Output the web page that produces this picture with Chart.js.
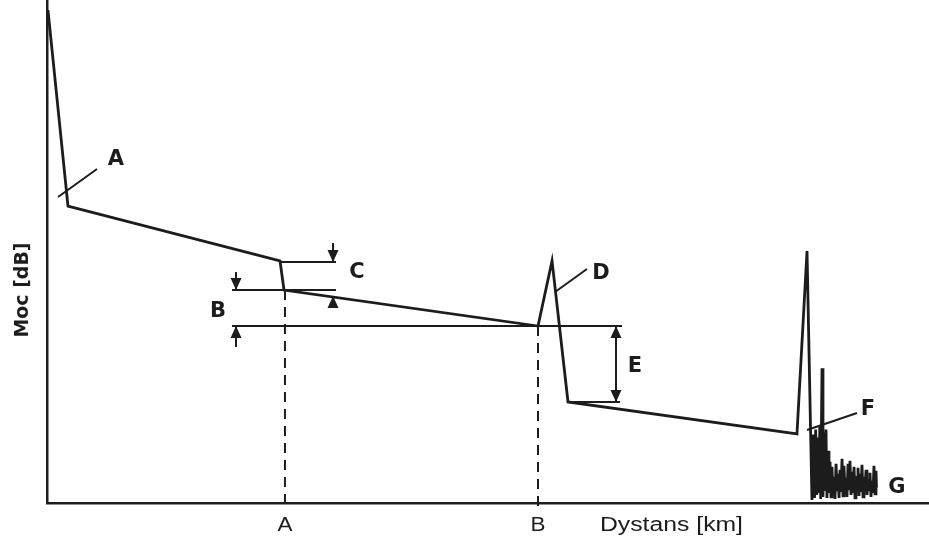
<html lang="en">
  <head>
    <meta name="viewport" content="width=device-width, initial-scale=1.0" />
    <title>OTDR</title>
    <style>
      * { padding: 0; margin: 0; box-sizing: border-box; }
      body { background: #ffffff; }
      .wrapper { position: relative; width: 929px; height: 539px; }
    </style>
  </head>
  <body>
    <div class="wrapper">
      <canvas id="otdr"></canvas>
    </div>
    <script src="https://cdn.jsdelivr.net/npm/chart.js@4.4.0/dist/chart.umd.min.js"></script>
    <script>
    // trace: distance [km] / power [dB]
    const traceX = [0.11, 2.38, 26.42, 26.87, 55.67, 57.26, 59.07, 85.03, 86.17, 86.73,
      86.90, 87.02, 87.15, 87.27, 87.40, 87.50, 87.62, 87.72, 87.87, 87.98,
      88.08, 88.20, 88.32, 88.43, 88.55, 88.66, 88.78, 88.89, 89.00, 89.12,
      89.23, 89.34, 89.46, 89.57, 89.68, 89.80, 89.91, 90.02, 90.14, 90.25,
      90.36, 90.48, 90.59, 90.70, 90.82, 90.93, 91.04, 91.16, 91.27, 91.38,
      91.50, 91.61, 91.72, 91.84, 91.95, 92.06, 92.18, 92.29, 92.40, 92.52,
      92.63, 92.74, 92.86, 92.97, 93.08, 93.20, 93.31, 93.42, 93.54, 93.65,
      93.76, 93.88, 93.99, 94.05];
    const traceY = [49.0, 29.52, 24.06, 21.17, 17.59, 24.06, 10.04, 6.86, 25.05, 0.30,
      6.8, 0.5, 7.3, 0.8, 6.5, 1.0, 7.6, 0.4, 13.4, 0.6,
      7.0, 1.2, 7.3, 0.5, 5.2, 1.0, 4.1, 0.6, 3.6, 0.9,
      2.6, 0.4, 3.9, 1.3, 2.9, 0.5, 3.3, 1.1, 4.4, 0.7,
      3.7, 1.2, 2.5, 0.6, 3.9, 1.4, 4.2, 0.8, 3.1, 1.0,
      3.6, 0.5, 2.7, 1.3, 3.5, 0.7, 2.9, 1.1, 3.8, 0.6,
      2.6, 1.2, 3.3, 0.8, 2.4, 1.3, 3.0, 0.6, 2.2, 1.0,
      3.7, 0.9, 3.2, 1.5];

    // event markers on the distance axis
    const tickValues = [26.98, 55.67];
    const tickLabels = ['A', 'B'];

    // helper lines: [x1, y1, x2, y2]
    const levelLines = [
      [26.42, 23.96, 32.77, 23.96],   // C top
      [20.98, 21.17, 32.77, 21.17],   // B top
      [20.98, 17.59, 65.19, 17.59],   // B bottom / E top
      [59.07, 10.04, 64.97, 10.04],   // E bottom
      [32.43, 25.84, 32.43, 23.96],   // C arrow shaft top
      [32.43, 20.58, 32.43, 19.58],   // C arrow shaft bottom
      [21.43, 22.96, 21.43, 21.17],   // B arrow shaft top
      [21.43, 17.59, 21.43, 15.51],   // B arrow shaft bottom
      [64.51, 17.59, 64.51, 10.04],   // E shaft
      [1.25, 30.42, 5.67, 33.20],     // A leader
      [57.60, 20.97, 61.22, 23.26],   // D leader
      [86.17, 7.26, 91.84, 8.95]      // F leader
    ];
    // arrow heads: [x, y, direction] (tip position)
    const arrowHeads = [
      [32.43, 23.96, 'down'], [32.43, 20.58, 'up'],
      [21.43, 21.17, 'down'], [21.43, 17.59, 'up'],
      [64.51, 17.59, 'up'], [64.51, 10.04, 'down']
    ];
    // dashed markers: [x, yTop]
    const dashedMarkers = [[26.98, 21.17], [55.67, 17.59]];
    // letters
    const letterText = ['A', 'B', 'C', 'D', 'E', 'F', 'G'];
    const letterX = [7.82, 19.39, 35.15, 62.81, 66.67, 93.08, 96.37];
    const letterY = [34.10, 18.99, 22.86, 22.76, 13.52, 9.24, 1.49];

    const ink = '#1c1c1c';

    const tracePoints = traceX.map((x, i) => ({ x: x, y: traceY[i] }));

    // squeeze text to a given width (the scan uses a condensed face)
    function fitText(ctx, text, x, y, width) {
      const w = ctx.measureText(text).width;
      ctx.save();
      ctx.translate(x, y);
      ctx.scale(width / w, 1);
      ctx.fillText(text, 0, 0);
      ctx.restore();
    }

    const annotate = {
      id: 'annotate',
      afterDatasetsDraw(chart) {
        const ctx = chart.ctx;
        const xs = chart.scales.x, ys = chart.scales.y;
        const px = v => xs.getPixelForValue(v);
        const py = v => ys.getPixelForValue(v);
        ctx.save();
        ctx.strokeStyle = ink;
        ctx.fillStyle = ink;
        ctx.lineCap = 'butt';

        // dashed markers down through the axis
        ctx.lineWidth = 2;
        ctx.setLineDash([10, 7]);
        dashedMarkers.forEach(m => {
          ctx.beginPath();
          ctx.moveTo(px(m[0]), py(m[1]));
          ctx.lineTo(px(m[0]), ys.bottom + 8);
          ctx.stroke();
        });
        ctx.setLineDash([]);

        levelLines.forEach(l => {
          ctx.beginPath();
          ctx.moveTo(px(l[0]), py(l[1]));
          ctx.lineTo(px(l[2]), py(l[3]));
          ctx.stroke();
        });

        arrowHeads.forEach(a => {
          const x = px(a[0]), y = py(a[1]);
          const d = a[2] === 'down' ? -1 : 1;
          ctx.beginPath();
          ctx.moveTo(x, y);
          ctx.lineTo(x - 5.5, y + d * 12);
          ctx.lineTo(x + 5.5, y + d * 12);
          ctx.closePath();
          ctx.fill();
        });

        ctx.font = 'bold 21px "DejaVu Sans"';
        ctx.textAlign = 'center';
        ctx.textBaseline = 'middle';
        letterText.forEach((t, i) => ctx.fillText(t, px(letterX[i]), py(letterY[i])));

        // axis labels
        ctx.font = '20px "Liberation Sans"';
        tickValues.forEach((v, i) => fitText(ctx, tickLabels[i], px(v), ys.bottom + 22, 15));
        ctx.textAlign = 'left';
        fitText(ctx, 'Dystans [km]', 600, ys.bottom + 22, 143);

        ctx.translate(23, 290);
        ctx.rotate(-Math.PI / 2);
        ctx.textAlign = 'center';
        ctx.font = 'bold 19px "DejaVu Sans"';
        fitText(ctx, 'Moc [dB]', 0, 0, 95);
        ctx.restore();
      }
    };

    new Chart(document.getElementById('otdr'), {
      type: 'scatter',
      plugins: [annotate],
      data: {
        datasets: [{
          data: tracePoints,
          showLine: true,
          borderColor: ink,
          borderWidth: 2.8,
          pointRadius: 0,
          tension: 0,
          clip: false
        }]
      },
      options: {
        responsive: true,
        maintainAspectRatio: false,
        animation: false,
        layout: { padding: { left: 47, right: 0, top: 0, bottom: 36 } },
        plugins: { legend: { display: false }, tooltip: { enabled: false } },
        scales: {
          x: {
            type: 'linear', min: 0, max: 100,
            ticks: { display: false },
            grid: { display: false, drawTicks: false },
            border: { display: true, color: ink, width: 2.5 }
          },
          y: {
            type: 'linear', min: 0, max: 50,
            ticks: { display: false },
            grid: { display: false, drawTicks: false },
            border: { display: true, color: ink, width: 2.5 }
          }
        }
      }
    });
    </script>
  </body>
</html>
